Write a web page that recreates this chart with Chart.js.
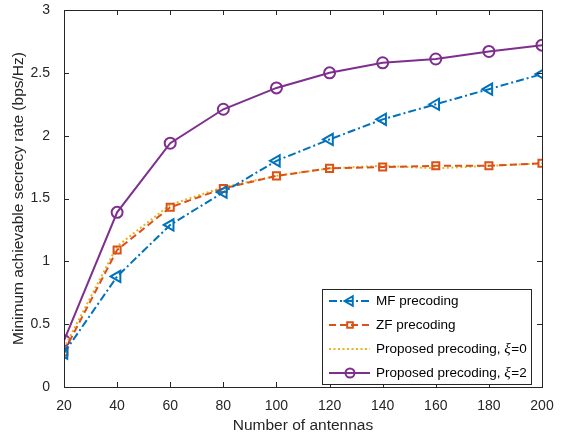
<!DOCTYPE html>
<html>
<head>
<meta charset="utf-8">
<script src="https://cdn.jsdelivr.net/npm/chart.js@4"></script>
<style>
  html, body { margin: 0; padding: 0; background: #fff; }
  #wrap { width: 562px; height: 439px; position: relative; }
</style>
</head>
<body>
<div id="wrap"><canvas id="grafico" width="562" height="439"></canvas></div>
<script>
// Dados
const antenas = [20, 40, 60, 80, 100, 120, 140, 160, 180, 200];
const mfPrecoding = [0.27, 0.88, 1.29, 1.55, 1.80, 1.97, 2.13, 2.25, 2.37, 2.49];
const zfPrecoding = [0.28, 1.09, 1.43, 1.58, 1.68, 1.74, 1.75, 1.76, 1.76, 1.78];
const propostoXi0 = [0.31, 1.12, 1.45, 1.59, 1.68, 1.74, 1.76, 1.74, 1.76, 1.78];
const propostoXi2 = [0.37, 1.39, 1.94, 2.21, 2.38, 2.50, 2.58, 2.61, 2.67, 2.72];
const xTicks = [20, 40, 60, 80, 100, 120, 140, 160, 180, 200];
const yTicks = [0, 0.5, 1, 1.5, 2, 2.5, 3];

const FONTE = '"Liberation Sans", Arial, sans-serif';
const AZUL = '#0072BD', LARANJA = '#D95319', AMARELO = '#EDB120', ROXO = '#7E2F8E';

const pares = (ys) => antenas.map((x, i) => ({ x: x, y: ys[i] }));

const series = [
    { label: 'MF precoding', data: pares(mfPrecoding), cor: AZUL, dash: [8, 3, 2, 3], ponto: 'triangle', rot: -90, raio: 6.5 },
    { label: 'ZF precoding', data: pares(zfPrecoding), cor: LARANJA, dash: [7, 4], ponto: 'rect', rot: 0, raio: 5 },
    { label: 'Proposed precoding, ', xi: '0', data: pares(propostoXi0), cor: AMARELO, dash: [2, 2.5], ponto: false, rot: 0, raio: 0 },
    { label: 'Proposed precoding, ', xi: '2', data: pares(propostoXi2), cor: ROXO, dash: [], ponto: 'circle', rot: 0, raio: 5.5 }
];

// Caixa com ticks para dentro + legenda estilo MATLAB
const caixaPlugin = {
    id: 'caixa',
    afterDraw(chart) {
        const { ctx, chartArea: a, scales } = chart;
        ctx.save();
        ctx.strokeStyle = '#262626';
        ctx.lineWidth = 1;
        ctx.setLineDash([]);
        ctx.strokeRect(a.left + 0.5, a.top + 0.5, a.right - a.left, a.bottom - a.top);
        const tl = 5;
        ctx.beginPath();
        xTicks.forEach(v => {
            const px = Math.round(scales.x.getPixelForValue(v)) + 0.5;
            ctx.moveTo(px, a.bottom); ctx.lineTo(px, a.bottom - tl);
            ctx.moveTo(px, a.top); ctx.lineTo(px, a.top + tl);
        });
        yTicks.forEach(v => {
            const py = Math.round(scales.y.getPixelForValue(v)) + 0.5;
            ctx.moveTo(a.left, py); ctx.lineTo(a.left + tl, py);
            ctx.moveTo(a.right, py); ctx.lineTo(a.right - tl, py);
        });
        ctx.stroke();

        // Legenda
        const lx = 322, ly = 289, lw = 209, lh = 95;
        ctx.fillStyle = '#fff';
        ctx.fillRect(lx, ly, lw, lh);
        ctx.strokeStyle = '#262626';
        ctx.strokeRect(lx + 0.5, ly + 0.5, lw, lh);
        series.forEach((s, i) => {
            const y = ly + 12 + i * 24;
            ctx.strokeStyle = s.cor;
            ctx.lineWidth = 2;
            ctx.setLineDash(s.dash);
            ctx.beginPath();
            ctx.moveTo(lx + 7, y); ctx.lineTo(lx + 48, y);
            ctx.stroke();
            ctx.setLineDash([]);
            if (s.ponto) {
                ctx.fillStyle = 'rgba(0,0,0,0)';
                Chart.helpers.drawPoint(ctx, {
                    pointStyle: s.ponto, rotation: s.rot, radius: s.raio - 1, borderWidth: 2
                }, lx + 28, y);
            }
            ctx.fillStyle = '#000';
            ctx.textBaseline = 'middle';
            ctx.textAlign = 'left';
            ctx.font = '13.5px ' + FONTE;
            let tx = lx + 54;
            ctx.fillText(s.label, tx, y);
            if (s.xi) {
                tx += ctx.measureText(s.label).width;
                ctx.font = 'italic 15px "Liberation Serif", serif';
                ctx.fillText('ξ', tx, y);
                tx += ctx.measureText('ξ').width + 0.5;
                ctx.font = '13.5px ' + FONTE;
                ctx.fillText('=' + s.xi, tx, y);
            }
        });
        ctx.restore();
    }
};

const ctxGrafico = document.getElementById('grafico').getContext('2d');
new Chart(ctxGrafico, {
    type: 'line',
    data: {
        datasets: series.map(s => ({
            label: s.label,
            data: s.data,
            borderColor: s.cor,
            backgroundColor: 'transparent',
            borderWidth: 2,
            borderDash: s.dash,
            pointStyle: s.ponto,
            pointRotation: s.rot,
            pointRadius: s.raio,
            pointBorderWidth: 2,
            pointBorderColor: s.cor,
            pointBackgroundColor: 'transparent',
            tension: 0,
            fill: false
        }))
    },
    options: {
        responsive: false,
        animation: false,
        layout: { padding: { top: 0, right: 20, left: 5, bottom: 0 } },
        plugins: {
            legend: { display: false },
            tooltip: { enabled: false }
        },
        scales: {
            x: {
                type: 'linear',
                min: 20, max: 200,
                afterBuildTicks: (sc) => { sc.ticks = xTicks.map(v => ({ value: v })); },
                afterFit: (sc) => { sc.height = 52; },
                grid: { display: false },
                border: { display: false },
                ticks: { color: '#262626', font: { family: FONTE, size: 14 }, padding: 3, maxRotation: 0 },
                title: { display: true, text: 'Number of antennas', color: '#262626', font: { family: FONTE, size: 15.5 }, padding: { top: 0 } }
            },
            y: {
                min: 0, max: 3,
                afterBuildTicks: (sc) => { sc.ticks = yTicks.map(v => ({ value: v })); },
                afterFit: (sc) => { sc.width = 59; sc.paddingTop = 10; },
                grid: { display: false },
                border: { display: false },
                ticks: { color: '#262626', font: { family: FONTE, size: 14, lineHeight: 1 }, padding: 6, callback: (v) => String(v) },
                title: { display: true, text: 'Minimum achievable secrecy rate (bps/Hz)', color: '#262626', font: { family: FONTE, size: 15.5 }, padding: { top: 4, bottom: 0 } }
            }
        }
    },
    plugins: [caixaPlugin]
});
</script>
</body>
</html>
